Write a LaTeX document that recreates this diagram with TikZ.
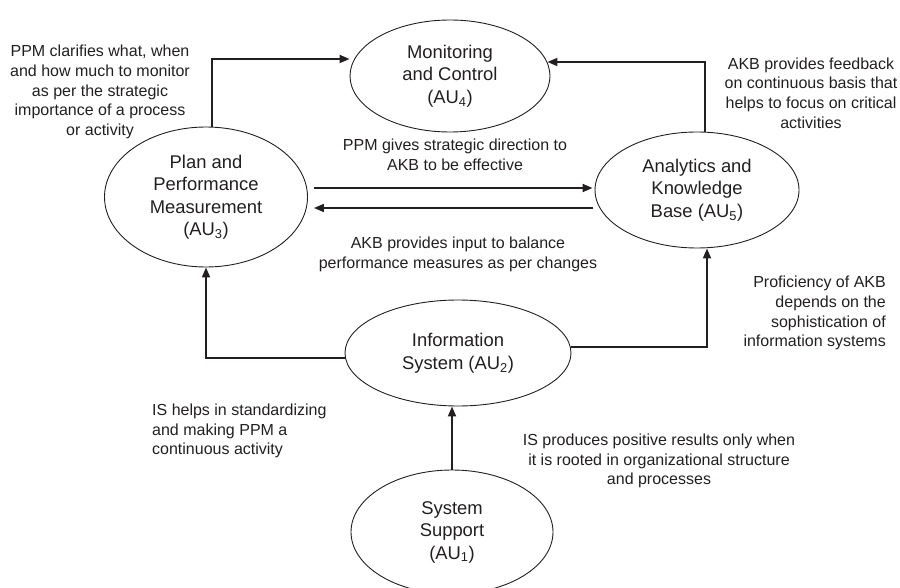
\documentclass[tikz,border=0pt]{standalone}
\usepackage{fontspec}
\setmainfont{Liberation Sans}
\usetikzlibrary{shapes.geometric,arrows.meta}
\definecolor{txt}{HTML}{231F20}
\begin{document}
\begin{tikzpicture}[x=1pt,y=-1pt,
  unit/.style={ellipse,draw=txt,line width=0.9pt,inner sep=0pt,font=\fontsize{18.4}{22.5}\selectfont,align=center,text=txt},
  note/.style={inner sep=0pt,font=\fontsize{16}{19.8}\selectfont,text=txt},
  conn/.style={draw=txt,line width=1.8pt,-{Triangle[length=10pt,width=8pt]}}]
\useasboundingbox (0,0) rectangle (900,588);
% units
\node[unit,minimum width=200pt,minimum height=112pt] (mc) at (450,76) {Monitoring\\and Control\\(AU\textsubscript{4})};
\node[unit,minimum width=203pt,minimum height=140pt] (plan) at (206,197) {Plan and\\Performance\\Measurement\\(AU\textsubscript{3})};
\node[unit,minimum width=204pt,minimum height=116pt] (akb) at (697,190) {Analytics and\\Knowledge\\Base (AU\textsubscript{5})};
\node[unit,minimum width=226pt,minimum height=106pt] (info) at (458,353) {Information\\System (AU\textsubscript{2})};
\node[unit,minimum width=202pt,minimum height=124pt] (ss) at (452,532) {System\\Support\\(AU\textsubscript{1})};
% notes
\node[note,align=center] (n1) at (100,92) {PPM clarifies what, when\\and how much to monitor\\as per the strategic\\importance of a process\\or activity};
\node[note,align=center] (n2) at (811,93) {AKB provides feedback\\on continuous basis that\\helps to focus on critical\\activities};
\node[note,align=center] (n3) at (455,155) {PPM gives strategic direction to\\AKB to be effective};
\node[note,align=center] (n4) at (458,254) {AKB provides input to balance\\performance measures as per changes};
\node[note,align=right,anchor=east] (n5) at (886,313) {Proficiency of AKB\\depends on the\\sophistication of\\information systems};
\node[note,align=left,anchor=west] (n6) at (152,431) {IS helps in standardizing\\and making PPM a\\continuous activity};
\node[note,align=center] (n7) at (659,461) {IS produces positive results only when\\it is rooted in organizational structure\\and processes};
% connector helper points
\coordinate (c1) at (212,59);
\coordinate (c2) at (705,62);
\coordinate (ya) at (0,188);
\coordinate (yb) at (0,208);
\coordinate (c3) at (0,358);
\coordinate (c4) at (707,347);
% connectors
\draw[conn] (plan.north -| c1) -- (c1) -- (mc.west |- c1);
\draw[conn] (akb.north -| c2) -- (c2) -- ([xshift=-3pt]mc.east |- c2);
\draw[conn] ([xshift=6pt]plan.east |- ya) -- ([xshift=-2pt]akb.west |- ya);
\draw[conn] ([xshift=-2pt]akb.west |- yb) -- ([xshift=6pt]plan.east |- yb);
\draw[conn] (info.west |- c3) -| (plan.south);
\draw[conn] (info.east |- c4) -- (c4) -- (akb.south -| c4);
\draw[conn] (ss.north) -- (info.south -| ss.north);
\end{tikzpicture}
\end{document}
